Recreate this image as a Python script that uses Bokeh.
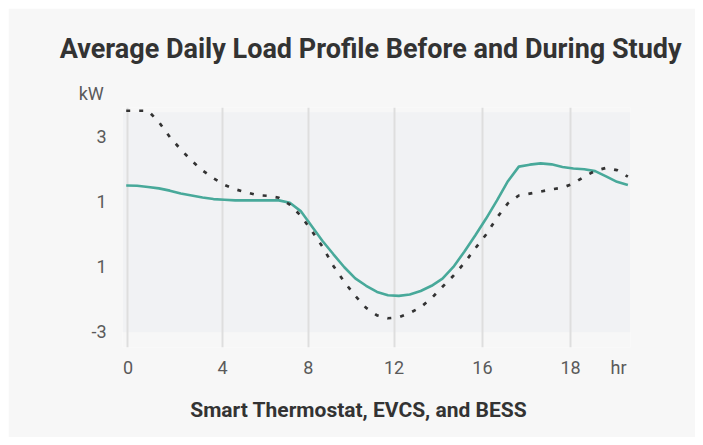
from bokeh.plotting import figure
from bokeh.models import Range1d, FixedTicker, BoxAnnotation, ColumnDataSource, Title
from bokeh.embed import file_html
from bokeh.resources import INLINE

# ---- data (kW) ----
hours = [0, 0.5, 1, 1.5, 2, 2.5, 3, 3.5, 4, 4.5, 5, 5.5, 6, 6.5, 7, 7.5,
         8, 8.5, 9, 9.5, 10, 10.5, 11, 11.5, 12, 12.5, 13, 13.5, 14, 14.5,
         15, 15.5, 16, 16.5, 17, 17.5, 18, 18.5, 19, 19.5, 20, 20.5, 21,
         21.5, 22, 22.5, 23]

during_study = [1.49, 1.48, 1.44, 1.40, 1.33, 1.24, 1.18, 1.12, 1.07, 1.05,
                1.03, 1.03, 1.03, 1.03, 1.03, 0.96, 0.70, 0.24, -0.22, -0.63,
                -1.03, -1.37, -1.60, -1.79, -1.89, -1.91, -1.87, -1.76, -1.60,
                -1.38, -1.02, -0.55, -0.05, 0.47, 1.03, 1.62, 2.07, 2.13, 2.17,
                2.14, 2.06, 2.01, 1.99, 1.93, 1.77, 1.60, 1.50]

before_study = [3.79, 3.79, 3.79, 3.44, 2.98, 2.60, 2.25, 1.95, 1.71, 1.51,
                1.37, 1.28, 1.19, 1.17, 1.11, 0.90, 0.56, 0.10, -0.40, -0.99,
                -1.48, -1.91, -2.28, -2.51, -2.60, -2.57, -2.44, -2.26, -1.98,
                -1.63, -1.29, -0.90, -0.45, -0.02, 0.50, 0.94, 1.18, 1.24, 1.30,
                1.37, 1.42, 1.55, 1.76, 1.94, 2.03, 1.96, 1.76]

x_tick_labels = ["0", "4", "8", "12", "16", "18"]
y_tick_values = [3, 1, -1, -3]
y_tick_labels = ["3", "1", "1", "-3"]

title_text = "Average Daily Load Profile Before and During Study"
subtitle_text = "Smart Thermostat, EVCS, and BESS"
y_unit = "kW"
x_unit = "hr"

# ---- styling / layout ----
PAGE_BG = "#f7f7f7"
PLOT_BG = "#f1f2f4"
TEAL = "#48a99a"
DARK = "#333333"
GREY = "#5a5a5a"
FONT = "Roboto"

x_tick_pos = [0.08, 4.42, 8.35, 12.28, 16.33, 20.37]
x_unit_pos = 22.57

p = figure(width=687, height=429, title=None,
           x_range=Range1d(-0.17, 23.12), y_range=Range1d(-3.50, 3.89),
           output_backend="svg", toolbar_location=None,
           min_border_left=114, min_border_right=65,
           min_border_top=99, min_border_bottom=89)
p.margin = (8, 8, 8, 8)
p.background_fill_color = PAGE_BG
p.border_fill_color = PAGE_BG
p.outline_line_color = None

bg = BoxAnnotation(bottom=-3.03, top=3.745, fill_color=PLOT_BG, fill_alpha=1.0,
                   line_color=None, level="image")
p.add_layout(bg)

src = ColumnDataSource(dict(h=hours, during=during_study, before=before_study))
p.line("h", "during", source=src, line_color=TEAL, line_width=2.6)
p.line("h", "before", source=src, line_color=DARK, line_width=2.7,
       line_dash="4 9")

# axes
axis_ticks = x_tick_pos + [x_unit_pos]
overrides = {t: l for t, l in zip(x_tick_pos, x_tick_labels)}
overrides[x_unit_pos] = x_unit
p.xaxis.ticker = FixedTicker(ticks=axis_ticks)
p.xaxis.major_label_overrides = overrides
p.yaxis.ticker = FixedTicker(ticks=y_tick_values)
p.yaxis.major_label_overrides = {t: l for t, l in zip(y_tick_values, y_tick_labels)}
for ax in (p.xaxis, p.yaxis):
    ax.axis_line_color = None
    ax.major_tick_line_color = None
    ax.minor_tick_line_color = None
    ax.major_label_text_font = FONT
    ax.major_label_text_font_size = "18px"
    ax.major_label_text_color = GREY
p.yaxis.major_label_standoff = 10
p.xaxis.major_label_standoff = 3

p.xgrid.ticker = FixedTicker(ticks=x_tick_pos)
p.xgrid.grid_line_color = "#dedede"
p.xgrid.grid_line_width = 2
p.ygrid.grid_line_color = None

# texts: unit label closest to the frame, main title above it
p.add_layout(Title(text=y_unit, align="left", offset=-43.8, standoff=8,
                   text_font=FONT, text_font_size="18px",
                   text_font_style="normal", text_color=GREY), "above")
p.add_layout(Title(text=title_text, align="left", offset=-62.7, standoff=24,
                   text_font=FONT, text_font_size="27px",
                   text_font_style="bold", text_color=DARK), "above")
p.add_layout(Title(text=subtitle_text, align="left", offset=67.7, standoff=31,
                   text_font=FONT, text_font_size="21px",
                   text_font_style="bold", text_color=DARK), "below")

open("out.html", "w").write(file_html(p, INLINE))
